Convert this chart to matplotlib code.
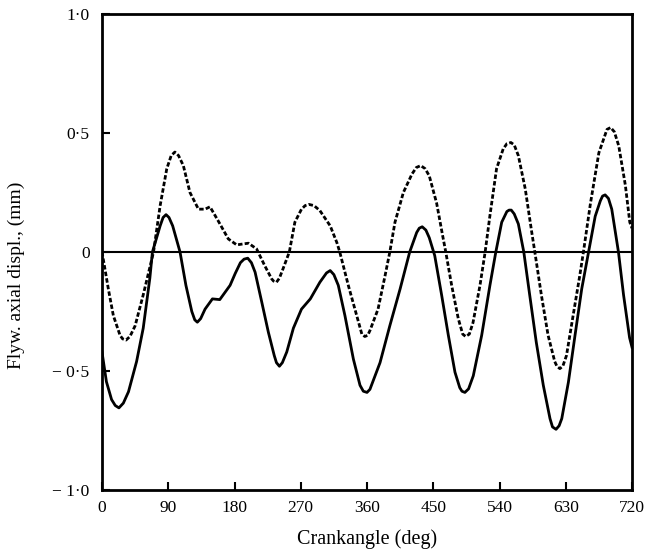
import matplotlib
matplotlib.use('Agg')
import matplotlib.pyplot as plt

plt.rcParams['font.family'] = ['Liberation Serif', 'DejaVu Serif']
plt.rcParams['font.size'] = 12.5

# solid curve
solid_x = [0, 6, 13, 18, 23, 29, 36, 47, 56, 65, 68.5, 79, 83, 87, 91, 96, 106,
           114, 122, 126, 129.5, 134, 140, 150, 160, 174, 181, 188, 193, 198, 203,
           208, 217, 226, 234, 237, 241, 245, 251, 260, 271, 283, 296, 305, 310,
           315, 321, 330, 341.5, 350.5, 355, 360, 364, 377.7, 391, 405, 418, 427.5,
           431, 435, 440, 444.6, 452, 461.5, 470.5, 479.5, 486, 489, 493, 498,
           504.4, 515.8, 527, 535, 543, 550, 553, 556, 560, 565.6, 573, 581, 590,
           599.5, 608.6, 612, 616.8, 621, 624.6, 633.6, 642.6, 651.7, 661, 670,
           677, 680, 683.5, 688, 692.5, 701.6, 708.5, 716.7, 720]
solid_y = [-0.42, -0.545, -0.62, -0.645, -0.655, -0.635, -0.587, -0.46, -0.32,
           -0.11, 0.0, 0.11, 0.145, 0.157, 0.145, 0.11, 0.0, -0.14, -0.25, -0.285,
           -0.295, -0.28, -0.24, -0.197, -0.2, -0.14, -0.09, -0.045, -0.03, -0.026,
           -0.045, -0.085, -0.21, -0.337, -0.435, -0.465, -0.48, -0.465, -0.42,
           -0.32, -0.24, -0.197, -0.127, -0.088, -0.078, -0.095, -0.14, -0.267,
           -0.45, -0.56, -0.585, -0.59, -0.577, -0.465, -0.31, -0.155, 0.0, 0.082,
           0.1, 0.106, 0.092, 0.06, -0.015, -0.183, -0.35, -0.505, -0.57, -0.585,
           -0.59, -0.575, -0.52, -0.35, -0.14, 0.0, 0.125, 0.17, 0.176, 0.176,
           0.16, 0.118, 0.0, -0.18, -0.38, -0.56, -0.7, -0.735, -0.745, -0.73,
           -0.7, -0.547, -0.35, -0.155, 0.0, 0.15, 0.215, 0.235, 0.24, 0.225,
           0.18, 0.0, -0.18, -0.36, -0.4]

# dashed curve
dash_x = [0, 2, 8.6, 15.4, 24.5, 28, 32.6, 38, 45, 56, 70, 79, 88, 94, 99, 104,
          110.5, 119.5, 131, 140, 146.7, 158, 171.6, 183, 199, 210, 221, 230.5,
          233, 237, 241, 246, 254.5, 262, 271, 276, 281, 288, 296, 310, 319, 323,
          334.6, 346, 353, 357, 361, 364, 375, 384.5, 391, 398, 409.4, 421, 427,
          433, 439, 444.6, 454.6, 462.8, 467, 475, 484, 490, 494, 499, 504, 513.5,
          520.5, 527, 536, 545, 550, 555.5, 560, 565.6, 575, 583.8, 588, 597, 606,
          615, 618, 622, 626, 631, 640, 649, 654, 663.6, 675, 686, 691, 696, 702,
          711, 717, 720]
dash_y = [0.0, -0.035, -0.155, -0.267, -0.35, -0.365, -0.37, -0.355, -0.31, -0.18,
          0.0, 0.195, 0.35, 0.405, 0.42, 0.405, 0.363, 0.25, 0.18, 0.18, 0.19,
          0.13, 0.055, 0.03, 0.037, 0.013, -0.057, -0.113, -0.122, -0.127, -0.11,
          -0.07, 0.0, 0.125, 0.18, 0.195, 0.2, 0.195, 0.174, 0.11, 0.04, 0.0,
          -0.14, -0.267, -0.345, -0.355, -0.35, -0.33, -0.24, -0.1, 0.0, 0.125,
          0.25, 0.327, 0.355, 0.363, 0.35, 0.32, 0.205, 0.068, 0.0, -0.14, -0.28,
          -0.345, -0.355, -0.345, -0.297, -0.14, 0.0, 0.153, 0.35, 0.433, 0.455,
          0.46, 0.45, 0.405, 0.265, 0.083, 0.0, -0.183, -0.35, -0.46, -0.48,
          -0.49, -0.48, -0.435, -0.267, -0.1, 0.0, 0.205, 0.417, 0.515, 0.523,
          0.505, 0.446, 0.28, 0.125, 0.10]

xticks = [0, 90, 180, 270, 360, 450, 540, 630, 720]
yticks = [-1.0, -0.5, 0, 0.5, 1.0]
ytick_labels = ['\u2212 1\u00b70', '\u2212 0\u00b75', '0', '0\u00b75', '1\u00b70']

fig = plt.figure(figsize=(6.49, 5.57), dpi=100)
ax = fig.add_axes([102 / 649, 1 - 490 / 557, 530 / 649, 476 / 557])

ax.plot([0, 720], [0, 0], color='black', lw=1.5)
ax.plot(solid_x, solid_y, color='black', lw=2.0, solid_joinstyle='round')
ax.plot(dash_x, dash_y, color='black', lw=2.0, dashes=(1.6, 0.8),
        dash_joinstyle='round')

ax.set_xlim(0, 720)
ax.set_ylim(-1, 1)
ax.set_xticks(xticks)
ax.set_xticklabels([str(t) for t in xticks])
ax.set_yticks(yticks)
ax.set_yticklabels(ytick_labels)
ax.tick_params(direction='in', length=6, width=1.5, top=False, right=False)
ax.tick_params(axis='x', pad=7)
ax.tick_params(axis='y', pad=9)
for s in ax.spines.values():
    s.set_linewidth(2)

ax.set_xlabel('Crankangle (deg)', fontsize=14.5, labelpad=10)
ax.set_ylabel('Flyw. axial displ., (mm)', fontsize=14)
ax.yaxis.set_label_coords(-0.145, 0.452)

fig.savefig('out.png', dpi=100)
